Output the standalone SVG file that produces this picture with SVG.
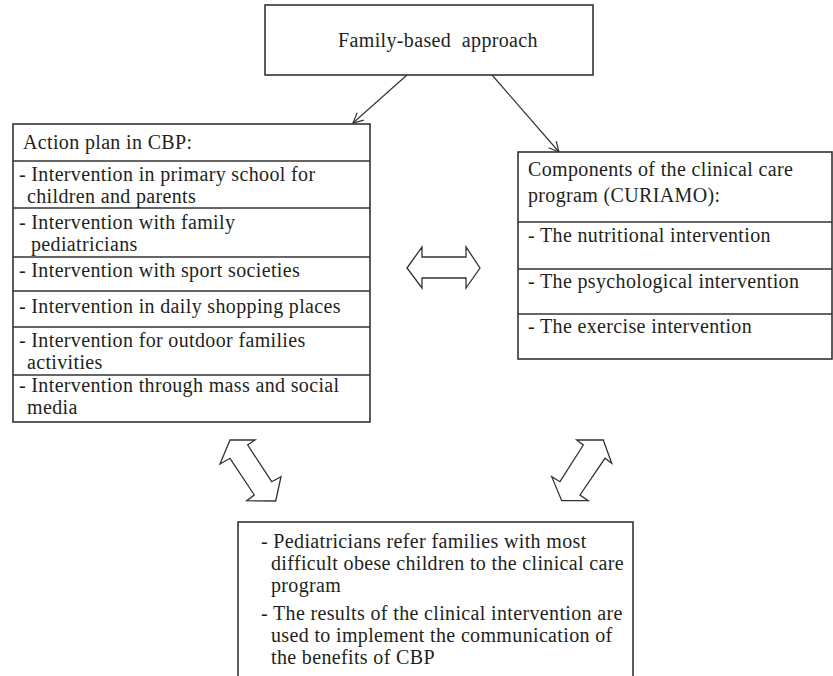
<svg xmlns="http://www.w3.org/2000/svg" width="833" height="676" viewBox="0 0 833 676">
<style>
.box{fill:#fff;stroke:#333;stroke-width:1.6}
.sep{stroke:#333;stroke-width:1.6}
.t{font-family:"Liberation Serif","Times New Roman",serif;font-size:20px;letter-spacing:0.35px;fill:#231f20}
.conn{stroke:#333;stroke-width:1.2;fill:none}
.dbl{fill:#fff;stroke:#333;stroke-width:1.3;stroke-linejoin:miter}
</style>
<defs>
<marker id="open" viewBox="0 0 12 12" refX="11" refY="6" markerWidth="12" markerHeight="12" markerUnits="userSpaceOnUse" orient="auto">
<path d="M1,1 L11,6 L1,11" fill="none" stroke="#333" stroke-width="1.2"/>
</marker>
</defs>
<rect width="833" height="676" fill="#fff"/>

<g id="connectors">
<line class="conn" x1="407" y1="75" x2="353" y2="123" marker-end="url(#open)"/>
<line class="conn" x1="492" y1="75" x2="559" y2="152" marker-end="url(#open)"/>
<polygon class="dbl" points="407,268 422,247 422,257 466,257 466,247 480,268 466,288 466,278 422,278 422,288"/>
<polygon class="dbl" points="230,440 255,440 247.7,445 271.7,481.7 281,476.7 275.7,501 246.7,500.7 254.3,495 230,458.3 220,464"/>
<polygon class="dbl" points="603.3,440 611.7,463.3 605,458.3 580,495 588.3,500.7 561.7,500.7 551.7,476.7 560,481.7 583.3,445 576.7,440"/>
</g>

<g id="family">
<rect class="box" x="265" y="5" width="328" height="70"/>
<text class="t" x="438" y="47" text-anchor="middle" xml:space="preserve">Family-based  approach</text>
</g>

<g id="action-plan">
<rect class="box" x="13" y="124" width="357" height="298"/>
<line class="sep" x1="13" y1="161" x2="370" y2="161"/>
<line class="sep" x1="13" y1="208" x2="370" y2="208"/>
<line class="sep" x1="13" y1="257" x2="370" y2="257"/>
<line class="sep" x1="13" y1="291" x2="370" y2="291"/>
<line class="sep" x1="13" y1="327" x2="370" y2="327"/>
<line class="sep" x1="13" y1="375" x2="370" y2="375"/>
<text class="t" x="23" y="149">Action plan in CBP:</text>
<text class="t" x="19" y="181">- Intervention in primary school for</text>
<text class="t" x="27" y="203">children and parents</text>
<text class="t" x="19" y="229">- Intervention with family</text>
<text class="t" x="31" y="251">pediatricians</text>
<text class="t" x="19" y="277">- Intervention with sport societies</text>
<text class="t" x="19" y="313">- Intervention in daily shopping places</text>
<text class="t" x="19" y="347">- Intervention for outdoor families</text>
<text class="t" x="27" y="369">activities</text>
<text class="t" x="19" y="392">- Intervention through mass and social</text>
<text class="t" x="27" y="414">media</text>
</g>

<g id="components">
<rect class="box" x="518" y="152" width="314" height="207"/>
<line class="sep" x1="518" y1="222" x2="832" y2="222"/>
<line class="sep" x1="518" y1="269" x2="832" y2="269"/>
<line class="sep" x1="518" y1="314" x2="832" y2="314"/>
<text class="t" x="528" y="176">Components of the clinical care</text>
<text class="t" x="528" y="202">program (CURIAMO):</text>
<text class="t" x="528" y="242">- The nutritional intervention</text>
<text class="t" x="528" y="288">- The psychological intervention</text>
<text class="t" x="528" y="333">- The exercise intervention</text>
</g>

<g id="outcomes">
<rect class="box" x="238" y="522" width="395" height="170"/>
<text class="t" x="261" y="548">- Pediatricians refer families with most</text>
<text class="t" x="271" y="570">difficult obese children to the clinical care</text>
<text class="t" x="271" y="592">program</text>
<text class="t" x="261" y="620">- The results of the clinical intervention are</text>
<text class="t" x="271" y="642">used to implement the communication of</text>
<text class="t" x="271" y="664">the benefits of CBP</text>
</g>
</svg>
